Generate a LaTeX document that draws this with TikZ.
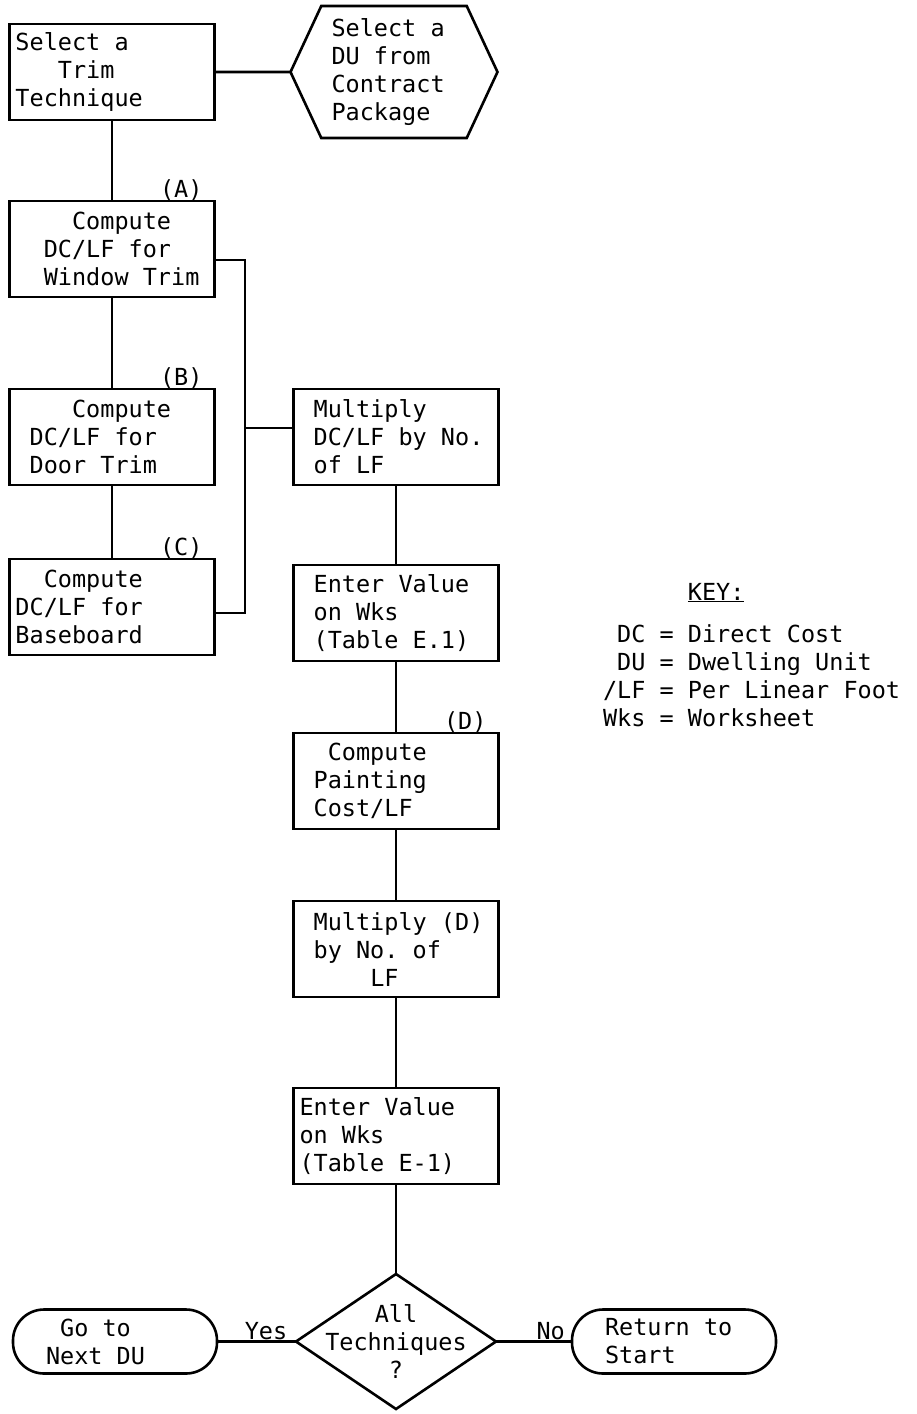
\documentclass[tikz,border=0pt]{standalone}
\usepackage{fontspec}
\setmainfont{DejaVu Sans Mono}
\usetikzlibrary{positioning, shapes.geometric, shapes.symbols}
\newlength\charw
\setlength\charw{14.15pt}
\newcommand{\indt}[1]{\hspace*{#1\charw}}

\begin{document}
\begin{tikzpicture}[
x=1pt, y=-1pt,
line width=2.6pt,
outer sep=0pt,
font=\fontsize{23.5pt}{28pt}\selectfont,
execute at begin node={\spaceskip=\charw\relax\xspaceskip=\charw\relax},
node distance=76pt,
box/.style={draw, align=left, text width=193pt, inner xsep=6pt, minimum height=96pt},
hexa/.style={draw, signal, signal to=east and west, signal pointer angle=130, align=left, text width=125pt, minimum width=207pt, minimum height=132pt},
decide/.style={draw, diamond, align=center, inner xsep=-25pt, inner ysep=-30pt, minimum width=200pt, minimum height=135pt},
term/.style={draw, rounded corners=31pt, align=left, text width=138pt, inner xsep=33pt, minimum height=64pt},
tag/.style={anchor=south east, inner sep=0pt, xshift=-12pt},
lbl/.style={inner sep=2pt}
]
\useasboundingbox (0,0) rectangle (917,1414);

\node[box] (trim) at (112,72) {Select a\\\indt{3}Trim\\Technique};
\node[hexa, right=of trim] (du) {Select a\\DU from\\Contract\\Package};
\node[box, below=81pt of trim, label={[tag]north east:(A)}] (win) {\indt{4}Compute\\\indt{2}DC/LF for\\\indt{2}Window Trim};
\node[box, below=92pt of win, label={[tag]north east:(B)}] (door) {\indt{4}Compute\\\indt{1}DC/LF for\\\indt{1}Door Trim};
\node[box, below=74pt of door, label={[tag]north east:(C)}] (base) {\indt{2}Compute\\DC/LF for\\Baseboard};
\node[box, right=79pt of door] (mult1) {\indt{1}Multiply\\\indt{1}DC/LF by No.\\\indt{1}of LF};
\node[box, below=80pt of mult1] (enter1) {\indt{1}Enter Value\\\indt{1}on Wks\\\indt{1}(Table E.1)};
\node[box, below=72pt of enter1, label={[tag]north east:(D)}] (paint) {\indt{2}Compute\\\indt{1}Painting\\\indt{1}Cost/LF};
\node[box, below=72pt of paint] (mult2) {\indt{1}Multiply (D)\\\indt{1}by No. of\\\indt{5}LF};
\node[box, below=91pt of mult2] (enter2) {Enter Value\\on Wks\\(Table E-1)};
\node[decide, below=90pt of enter2] (dia) {All\\Techniques\\?};
\node[term, left=79pt of dia] (go) {\indt{1}Go to\\Next DU};
\node[term, right=of dia] (ret) {Return to\\Start};

\node[align=left, anchor=north west, inner sep=0pt] (key) at (603,583) {\indt{6}\underline{KEY:}\\[14pt]\indt{1}DC = Direct Cost\\\indt{1}DU = Dwelling Unit\\/LF = Per Linear Foot\\Wks = Worksheet};

\draw (trim) -- (du);
\draw (trim) -- (win);
\draw (win) -- (door);
\draw (door) -- (base);
\coordinate (bus) at (245,428);
\draw ([yshift=-11pt]win.east) -| (bus) |- ([yshift=-6pt]base.east);
\draw (bus) -- (bus -| mult1.west);
\draw (mult1) -- (enter1);
\draw (enter1) -- (paint);
\draw (paint) -- (mult2);
\draw (mult2) -- (enter2);
\draw (enter2) -- (dia);
\draw (go) -- node[lbl, above, pos=0.62] {Yes} (dia);
\draw (dia) -- node[lbl, above, pos=0.72] {No} (ret);

\end{tikzpicture}
\end{document}
